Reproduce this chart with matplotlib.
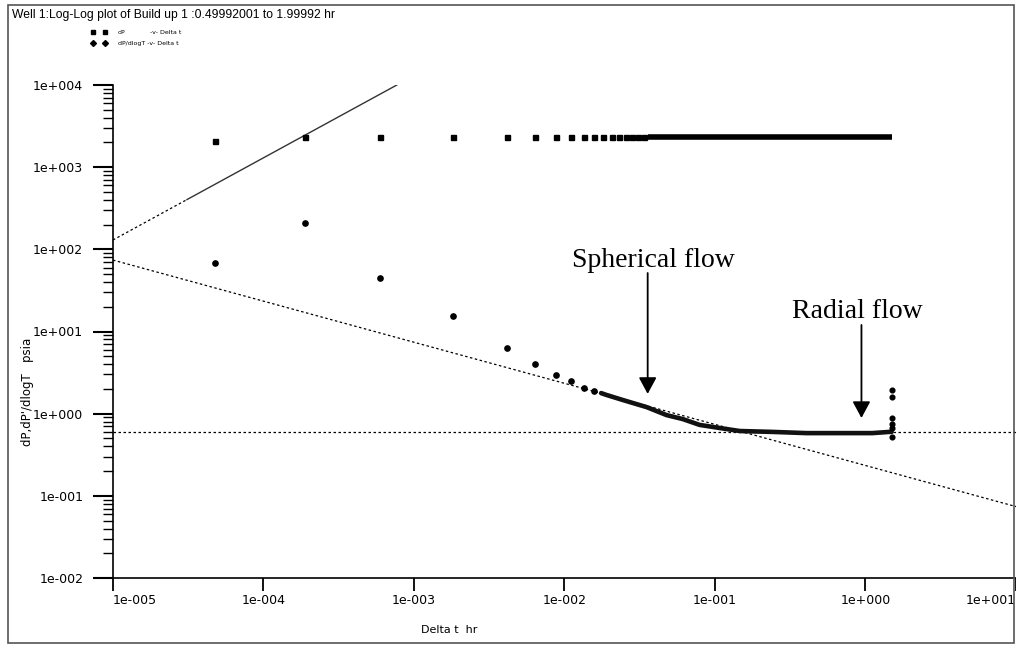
import numpy as np
import matplotlib
matplotlib.use("Agg")
import matplotlib.pyplot as plt
from matplotlib.patches import Rectangle
from matplotlib.ticker import LogLocator, NullFormatter

# =====================================================
# DATA
# =====================================================

# dP (psia) vs Delta t (hr), discrete early samples
dp_time = [4.75e-5, 1.88e-4, 5.93e-4, 1.81e-3, 4.13e-3, 6.39e-3, 8.75e-3,
           1.10e-2, 1.34e-2, 1.57e-2, 1.79e-2, 2.06e-2, 2.29e-2, 2.55e-2,
           2.79e-2, 3.06e-2, 3.36e-2]
dp_value = [2080, 2330, 2330, 2330, 2330, 2330, 2330,
            2330, 2330, 2330, 2330, 2330, 2330, 2330,
            2330, 2330, 2330]

# dP, dense late-time band
dp_band_time = [0.036, 0.05, 0.07, 0.1, 0.15, 0.2, 0.3, 0.45, 0.6, 0.8, 1.0, 1.2, 1.5]
dp_band_value = [2330, 2330, 2330, 2330, 2330, 2330, 2330, 2330, 2330, 2330, 2330, 2330, 2330]

# derivative dP/dlogT, discrete early samples
der_time = [4.75e-5, 1.88e-4, 5.93e-4, 1.81e-3, 4.13e-3, 6.39e-3, 8.75e-3,
            1.10e-2, 1.34e-2, 1.57e-2]
der_value = [68.2, 212, 44.8, 15.5, 6.3, 4.03, 2.96, 2.5, 2.05, 1.89]

# derivative, dense band
der_band_time = [0.0175, 0.019, 0.0243, 0.0352, 0.0477, 0.061, 0.079, 0.107,
                 0.146, 0.241, 0.405, 0.67, 1.11, 1.44, 1.49]
der_band_value = [1.78, 1.69, 1.47, 1.20, 0.96, 0.86, 0.73, 0.67,
                  0.615, 0.60, 0.58, 0.58, 0.58, 0.60, 0.60]

# end-of-test scatter
der_end_time = [1.49, 1.49, 1.49, 1.49, 1.49, 1.49]
der_end_value = [1.94, 1.60, 0.88, 0.75, 0.66, 0.52]

# straight-line fits
storage_coef = 1.3e7        # unit slope: dP = C * t
storage_dash_end = 3.1e-5
storage_end = 7.69e-4
spherical_coef = 74.0       # half slope at t = 1e-5
radial_level = 0.59

x_ticks = [1e-5, 1e-4, 1e-3, 1e-2, 1e-1, 1e0, 1e1]
x_tick_labels = ["1e-005", "1e-004", "1e-003", "1e-002", "1e-001", "1e+000", "1e+001"]
y_ticks = [1e-2, 1e-1, 1e0, 1e1, 1e2, 1e3, 1e4]
y_tick_labels = ["1e-002", "1e-001", "1e+000", "1e+001", "1e+002", "1e+003", "1e+004"]

# =====================================================
# FIGURE
# =====================================================

W, H = 1016, 645
fig = plt.figure(figsize=(W / 100, H / 100), dpi=100)
ax = fig.add_axes([113 / W, 1 - 578 / H, 903 / W, 493 / H])

ax.set_xscale("log")
ax.set_yscale("log")
ax.set_xlim(1e-5, 1e1)
ax.set_ylim(1e-2, 1e4)

# fitted lines
x_full = np.array([1e-5, 1e1])
ax.plot([1e-5, storage_dash_end],
        [storage_coef * 1e-5, storage_coef * storage_dash_end],
        color="black", lw=0.9, ls=(0, (2, 2)))
ax.plot([storage_dash_end, storage_end],
        [storage_coef * storage_dash_end, storage_coef * storage_end],
        color="#333333", lw=1.0)
ax.plot(x_full, spherical_coef * (x_full / 1e-5) ** -0.5,
        color="black", lw=0.9, ls=(0, (2, 2)))
ax.plot(x_full, [radial_level, radial_level],
        color="black", lw=0.9, ls=(0, (2, 2)))

# dP
ax.plot(dp_time, dp_value, ls="none", marker="s", ms=3.6, color="black")
ax.plot(dp_band_time, dp_band_value, color="black", lw=4.0,
        solid_capstyle="butt")

# derivative
ax.plot(der_time, der_value, ls="none", marker="o", ms=3.8, color="black")
ax.plot(der_band_time, der_band_value, color="#111111", lw=3.3,
        solid_capstyle="round", solid_joinstyle="round")
ax.plot(der_end_time, der_end_value, ls="none", marker="o", ms=3.4, color="black")

# =====================================================
# FLOW REGIME ANNOTATIONS
# =====================================================

arrow = dict(arrowstyle="-|>,head_length=0.5,head_width=0.27",
             mutation_scale=20, color="black", lw=1.3, shrinkA=0, shrinkB=0)

ax.annotate("", xy=(0.0357, 1.74), xytext=(0.0357, 51.5), arrowprops=arrow)
ax.annotate("", xy=(0.94, 0.886), xytext=(0.94, 12.0), arrowprops=arrow)

ax.text(0.0388, 61, "Spherical flow", ha="center", va="baseline",
        family="Liberation Serif", fontsize=20)
ax.text(0.879, 14.6, "Radial flow", ha="center", va="baseline",
        family="Liberation Serif", fontsize=20)

# =====================================================
# AXES STYLE
# =====================================================

for side in ["top", "right"]:
    ax.spines[side].set_visible(False)
ax.spines["left"].set_linewidth(1.2)
ax.spines["bottom"].set_linewidth(1.2)

ax.set_xticks(x_ticks, x_tick_labels)
ax.xaxis.set_minor_locator(plt.NullLocator())
ax.set_yticks(y_ticks, y_tick_labels)
ax.yaxis.set_minor_locator(LogLocator(base=10, subs=np.arange(2, 10)))
ax.yaxis.set_minor_formatter(NullFormatter())

ax.tick_params(axis="x", which="major", direction="out", length=9.4,
               width=1.3, pad=2, labelsize=9)
ax.tick_params(axis="y", which="major", direction="out", length=14.4,
               width=1.5, pad=7, labelsize=9)
ax.tick_params(axis="y", which="minor", direction="out", length=7.2, width=1.0)

xl = ax.get_xticklabels()
xl[0].set_horizontalalignment("left")
xl[-1].set_horizontalalignment("right")

ax.patch.set_visible(False)

# axis titles
fig.text(449 / W, 1 - 630 / H, "Delta t  hr", ha="center", va="center", fontsize=8)
fig.text(28 / W, 1 - 392 / H, "dP,dP'/dlogT   psia", ha="center", va="center",
         rotation=90, fontsize=8.5)

# =====================================================
# TITLE, LEGEND, FRAME
# =====================================================

fig.text(12 / W, 1 - 15 / H,
         "Well 1:Log-Log plot of Build up 1 :0.49992001 to 1.99992 hr",
         ha="left", va="center", fontsize=8.7, family="Liberation Sans")

fig.lines.append(plt.Line2D([93 / W, 105 / W], [1 - 32 / H, 1 - 32 / H],
                            ls="none", marker="s", ms=3, color="black",
                            transform=fig.transFigure))
fig.lines.append(plt.Line2D([93 / W, 105 / W], [1 - 43 / H, 1 - 43 / H],
                            ls="none", marker="D", ms=3, color="black",
                            transform=fig.transFigure))
fig.text(118 / W, 1 - 32 / H, "dP", fontsize=4.5, va="center")
fig.text(150 / W, 1 - 32 / H, "-v- Delta t", fontsize=4.5, va="center")
fig.text(118 / W, 1 - 43 / H, "dP/dlogT -v- Delta t", fontsize=4.5, va="center")

fig.patches.append(Rectangle((8 / W, 1 - 643 / H), 1006 / W, 638 / H,
                             fill=False, edgecolor="#555555", lw=1.2,
                             transform=fig.transFigure))

fig.savefig("out.png", dpi=100, facecolor="white")
plt.close(fig)
